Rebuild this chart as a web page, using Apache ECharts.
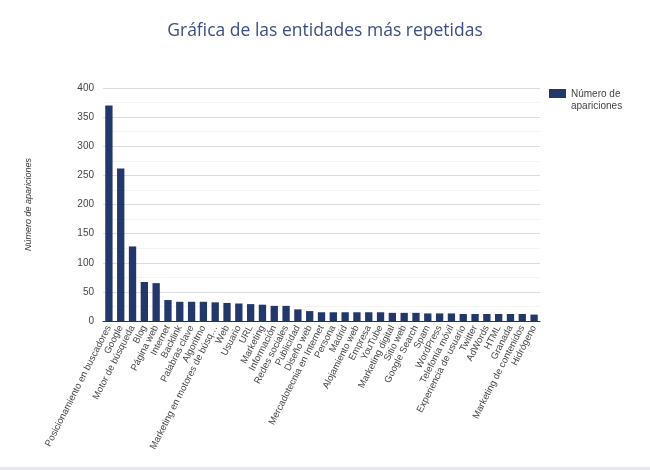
<!DOCTYPE html>
<html>
<head>
<meta charset="utf-8">
<script src="https://cdn.jsdelivr.net/npm/echarts@6/dist/echarts.min.js"></script>
<style>
  html, body { margin: 0; padding: 0; background: #fff; }
  #chart { width: 650px; height: 470px; }
</style>
</head>
<body>
<div id="chart"></div>
<script>
var entidades = [
  'Posicionamiento en buscadores', 'Google', 'Motor de búsqueda', 'Blog', 'Página web',
  'Internet', 'Backlink', 'Palabras clave', 'Algoritmo', 'Marketing en motores de búsq…',
  'Web', 'Usuario', 'URL', 'Marketing', 'Información', 'Redes sociales', 'Publicidad',
  'Diseño web', 'Mercadotecnia en Internet', 'Persona', 'Madrid', 'Alojamiento web',
  'Empresa', 'YouTube', 'Marketing digital', 'Sitio web', 'Google Search', 'Spam',
  'WordPress', 'Telefonía móvil', 'Experiencia de usuario', 'Twitter', 'AdWords',
  'HTML', 'Granada', 'Marketing de contenidos', 'Hidrógeno'
];
var apariciones = [
  370, 262, 128, 67, 65,
  36, 33, 33, 33, 32,
  31, 30, 29, 28, 26, 26, 20,
  17, 15, 15, 15, 15,
  15, 15, 14, 14, 14, 13,
  13, 13, 12, 12, 12,
  12, 12, 12, 11
];
var yTicks = [0, 50, 100, 150, 200, 250, 300, 350, 400];

var myChart = echarts.init(document.getElementById('chart'));
var options = {};
options.title = {
  text: 'Gráfica de las entidades más repetidas',
  left: 'center',
  top: 17,
  textStyle: { fontFamily: 'Open Sans', fontWeight: 'normal', fontSize: 17.5, color: '#3a4d85' }
};
// legend swatch sits beside the first text line, so the icon box is taller
options.legend = {
  data: ['Número de\napariciones'],
  orient: 'vertical',
  left: 544,
  top: 83,
  icon: 'path://M0,0H17V9H0Z M0,21.9H0.1V22H0Z',
  itemWidth: 17,
  itemHeight: 22,
  textStyle: { fontFamily: 'Liberation Sans', fontSize: 10, color: '#444', lineHeight: 12 }
};
options.grid = { left: 103, right: 110, top: 88, bottom: 149 };
options.xAxis = {
  type: 'category',
  data: entidades,
  axisTick: { show: false },
  axisLine: { lineStyle: { color: '#333', width: 1 } },
  axisLabel: {
    interval: 0,
    rotate: 63,
    margin: 5,
    fontFamily: 'Liberation Sans',
    fontSize: 9.5,
    color: '#444'
  }
};
options.yAxis = {
  type: 'value',
  min: yTicks[0],
  max: yTicks[yTicks.length - 1],
  interval: 50,
  name: 'Número de apariciones',
  nameLocation: 'middle',
  nameGap: 70,
  nameTextStyle: { fontFamily: 'Liberation Sans', fontStyle: 'italic', fontSize: 9, color: '#333' },
  axisLabel: { fontFamily: 'Liberation Sans', fontSize: 10, color: '#444', margin: 9 },
  splitLine: { lineStyle: { color: '#dcdcdc' } },
  minorTick: { show: false, splitNumber: 2 },
  minorSplitLine: { show: true, lineStyle: { color: '#f3f3f3' } }
};
options.series = [{
  name: 'Número de\napariciones',
  type: 'bar',
  data: apariciones,
  barCategoryGap: '38%',
  itemStyle: { color: '#22386b' }
}];
options.graphic = [{
  type: 'rect',
  shape: { x: 0, y: 467, width: 650, height: 3 },
  style: { fill: '#e6e9f0' }
}];
myChart.setOption(options);
</script>
</body>
</html>
